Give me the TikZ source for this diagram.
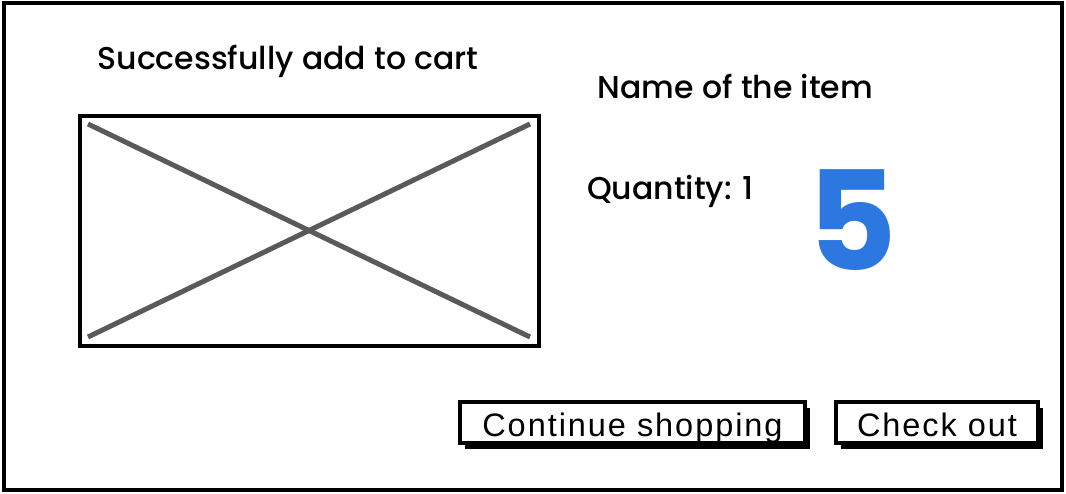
\documentclass[tikz,border=0pt]{standalone}
\usepackage{fontspec}
\usetikzlibrary{shadows}
\newfontfamily\uifont{Poppins Medium}
\newfontfamily\bigfont{Poppins Bold}
\newfontfamily\btnfont{Liberation Sans}[LetterSpace=6]
\definecolor{bigblue}{RGB}{44,120,224}
\definecolor{crossgray}{RGB}{90,90,90}
\tikzset{
  frameline/.style={draw=black, line width=3.5pt, fill=white, inner sep=0pt},
  label/.style={font=\uifont\fontsize{31.5}{36}\selectfont, inner sep=0pt},
  btnbox/.style={draw=black, line width=3.5pt, fill=white, inner sep=0pt,
    minimum height=41pt, text height=27pt, text depth=0pt,
    font=\btnfont\fontsize{32.5}{36}\selectfont,
    drop shadow={shadow xshift=5pt, shadow yshift=-6pt, fill=black, opacity=1}},
  crossline/.style={draw=crossgray, line width=5pt},
}
\begin{document}
\begin{tikzpicture}[x=1pt, y=-1pt]
\useasboundingbox (0,0) rectangle (1066,494);
\node[frameline, minimum width=1058pt, minimum height=487pt] (frame) at (533,246.5) {};
\node[label, anchor=base] (title) at (288,70) {Successfully add to cart};
\node[frameline, minimum width=459pt, minimum height=230pt] (img) at (309.5,231) {};
\coordinate (c1) at (88,124);
\coordinate (c2) at (530,337);
\coordinate (c3) at (88,337);
\coordinate (c4) at (530,124);
\draw[crossline] (c1) -- (c2);
\draw[crossline] (c3) -- (c4);
\node[label, anchor=base] (name) at (735.5,98.5) {Name of the item};
\node[label, anchor=base west] (qty) at (587,199.5) {Quantity: 1};
\node[inner sep=0pt, text=bigblue, font=\bigfont\fontsize{138}{142}\selectfont, anchor=base] (num) at (852,271) {5};
\node[btnbox, minimum width=345pt] (cont) at (632.5,422.5) {Continue shopping};
\node[btnbox, minimum width=202pt] (check) at (937,422.5) {Check out};
\end{tikzpicture}
\end{document}
